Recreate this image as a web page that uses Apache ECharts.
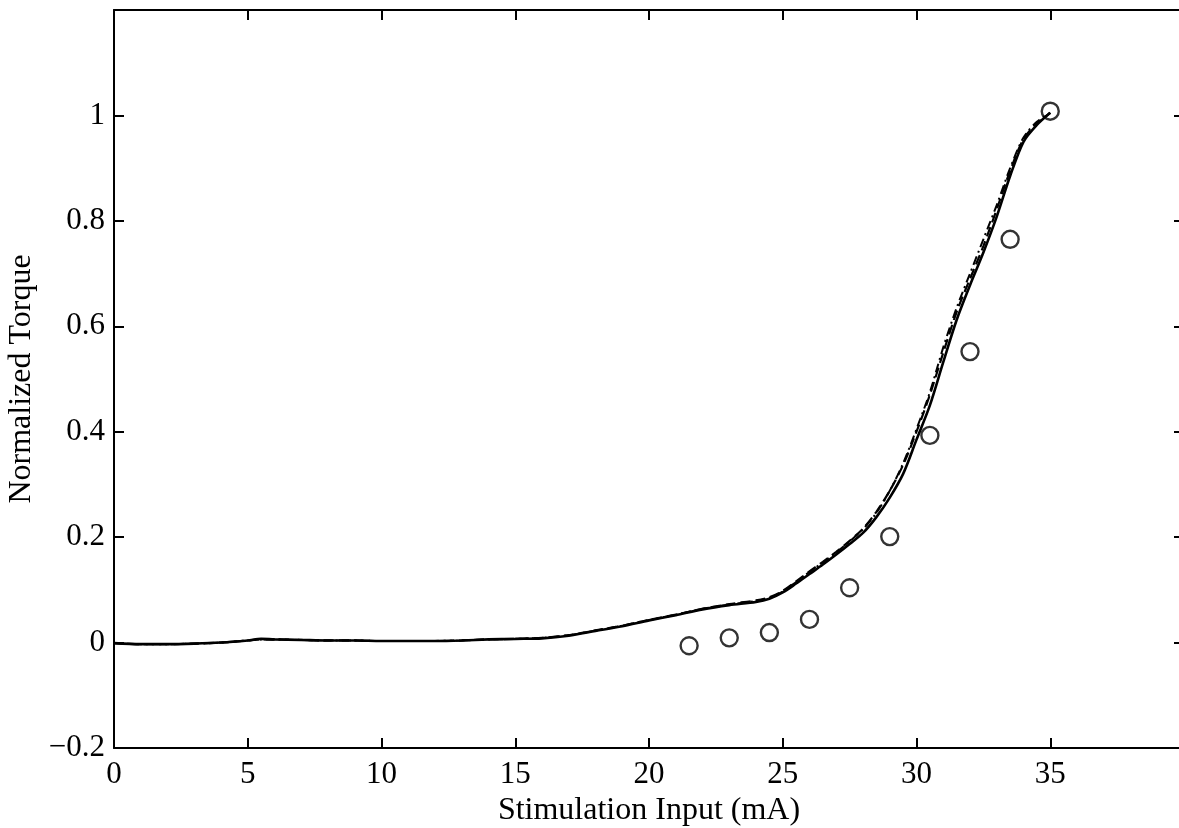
<!DOCTYPE html>
<html>
<head>
<meta charset="utf-8">
<script src="https://cdn.jsdelivr.net/npm/echarts@6/dist/echarts.min.js"></script>
<style>
  html, body { margin: 0; padding: 0; background: #fff; }
  #chart { width: 1179px; height: 828px; }
</style>
</head>
<body>
<div id="chart"></div>
<script>
// Stimulation current (mA) at which the model curves are sampled
const stimInput = [0,1,2,3,4,5,5.5,6,7,8,9,10,11,12,13,14,15,16,17,18,19,20,21,22,23,24,24.5,25,25.5,26,26.5,27,27.5,28,28.5,29,29.5,30,30.5,31,31.5,32,32.5,33,33.5,34,34.5,35];

// Normalized torque, model A (solid)
const torqueSolid = [-0.001,-0.003,-0.003,-0.002,0.000,0.004,0.007,0.006,0.005,0.004,0.004,0.003,0.003,0.003,0.004,0.006,0.007,0.008,0.013,0.022,0.031,0.042,0.052,0.063,0.071,0.077,0.083,0.095,0.112,0.130,0.148,0.167,0.187,0.208,0.238,0.275,0.320,0.385,0.450,0.532,0.612,0.678,0.740,0.808,0.885,0.950,0.982,1.005];

// Normalized torque, model B (dashed)
const torqueDashed = [-0.001,-0.003,-0.003,-0.002,0.000,0.004,0.006,0.006,0.005,0.004,0.004,0.003,0.003,0.003,0.004,0.006,0.007,0.009,0.014,0.023,0.032,0.043,0.053,0.064,0.073,0.080,0.086,0.098,0.116,0.135,0.153,0.172,0.193,0.216,0.248,0.288,0.337,0.400,0.470,0.550,0.627,0.690,0.752,0.822,0.895,0.955,0.985,1.005];

// Normalized torque, model C (dash-dot)
const torqueDashDot = [-0.001,-0.003,-0.003,-0.002,0.000,0.004,0.006,0.006,0.005,0.004,0.004,0.003,0.003,0.003,0.004,0.006,0.007,0.009,0.014,0.023,0.032,0.043,0.053,0.064,0.072,0.079,0.085,0.097,0.115,0.134,0.152,0.171,0.192,0.215,0.246,0.288,0.340,0.405,0.475,0.560,0.635,0.700,0.765,0.830,0.900,0.958,0.988,1.005];

// Measured torque (circles)
const measInput  = [21.5, 23, 24.5, 26, 27.5, 29, 30.5, 32, 33.5, 35];
const measTorque = [-0.006, 0.009, 0.019, 0.044, 0.104, 0.201, 0.393, 0.552, 0.765, 1.008];

const pair = (xs, ys) => xs.map((x, i) => [x, ys[i]]);

const font = '"Liberation Serif", "Times New Roman", serif';
const axisLine = { show: true, onZero: false, lineStyle: { color: '#000', width: 2 } };
const tickIn = { show: true, inside: true, length: 10, lineStyle: { color: '#000', width: 2 } };

const chart = echarts.init(document.getElementById('chart'), null, { renderer: 'canvas' });

chart.setOption({
  animation: false,
  backgroundColor: '#fff',
  grid: { left: 114, top: 10, width: 1070, height: 738, containLabel: false, outerBoundsMode: 'none' },
  xAxis: [
    {
      type: 'value', position: 'bottom', min: 0, max: 40, interval: 5,
      name: 'Stimulation Input (mA)', nameLocation: 'middle', nameGap: 41,
      nameTextStyle: { fontFamily: font, fontSize: 32, color: '#000' },
      axisLine, axisTick: tickIn, splitLine: { show: false },
      axisLabel: {
        fontFamily: font, fontSize: 31, color: '#000', margin: 11,
        formatter: v => (v === 40 ? '' : String(v))
      }
    },
    {
      type: 'value', position: 'top', min: 0, max: 40, interval: 5,
      axisLine, axisTick: tickIn, axisLabel: { show: false }, splitLine: { show: false }
    }
  ],
  yAxis: [
    {
      type: 'value', position: 'left', min: -0.2, max: 1.2, interval: 0.2,
      name: 'Normalized Torque', nameLocation: 'middle', nameGap: 74,
      nameTextStyle: { fontFamily: font, fontSize: 32, color: '#000' },
      axisLine, axisTick: tickIn, splitLine: { show: false },
      axisLabel: {
        fontFamily: font, fontSize: 31, color: '#000', margin: 9,
        formatter: v => {
          const r = Math.round(v * 10) / 10;
          if (r >= 1.2) return '';
          return r < 0 ? '\u2212' + String(-r) : String(r);
        }
      }
    },
    {
      type: 'value', position: 'right', min: -0.2, max: 1.2, interval: 0.2,
      axisLine: { show: false, onZero: false },
      axisTick: tickIn, axisLabel: { show: false }, splitLine: { show: false }
    }
  ],
  series: [
    {
      name: 'Model A', type: 'line', data: pair(stimInput, torqueSolid),
      showSymbol: false, smooth: 0.3,
      lineStyle: { color: '#000', width: 2.6, type: 'solid' }
    },
    {
      name: 'Model B', type: 'line', data: pair(stimInput, torqueDashed),
      showSymbol: false, smooth: 0.3,
      lineStyle: { color: '#000', width: 2.2, type: [10, 5] }
    },
    {
      name: 'Model C', type: 'line', data: pair(stimInput, torqueDashDot),
      showSymbol: false, smooth: 0.3,
      lineStyle: { color: '#000', width: 2, type: [9, 4, 2, 4] }
    },
    {
      name: 'Measured', type: 'scatter', data: pair(measInput, measTorque),
      symbol: 'circle', symbolSize: 17,
      itemStyle: { color: 'rgba(255,255,255,0)', borderColor: '#000', borderWidth: 2.4 },
      z: 5
    }
  ]
});
</script>
</body>
</html>
